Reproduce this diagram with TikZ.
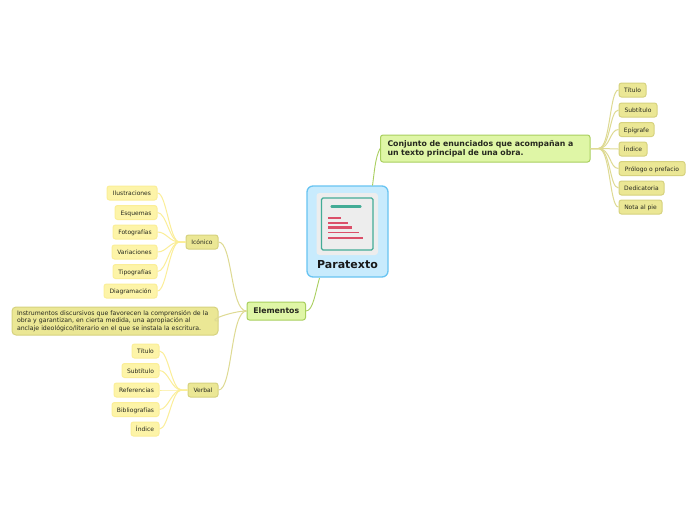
\documentclass[tikz,border=0pt]{standalone}
\usepackage{xcolor}
\usepackage{fontspec}
\setmainfont{DejaVu Sans}
\usepackage{tikz}

\definecolor{rootfill}{HTML}{C8EBFD}
\definecolor{rootline}{HTML}{68C4F2}
\definecolor{greenfill}{HTML}{DFF6A6}
\definecolor{greenline}{HTML}{A9CF5E}
\definecolor{olivefill}{HTML}{EBE795}
\definecolor{oliveline}{HTML}{D6D27E}
\definecolor{paleline}{HTML}{DEDA92}
\definecolor{yellowfill}{HTML}{FDF4A8}
\definecolor{yellowline}{HTML}{FBEE98}
\definecolor{inktext}{HTML}{26281F}
\definecolor{iconteal}{HTML}{43AC96}
\definecolor{iconred}{HTML}{D5304F}

\tikzset{
  topic/.style={rounded corners=2.5pt, line width=1pt, inner sep=0pt, align=center, text=inktext,
    font=\fontsize{6}{7}\selectfont},
  rootbox/.style={topic, draw=rootline, fill=rootfill, rounded corners=6pt, line width=1.3pt},
  mainbox/.style={topic, draw=greenline, fill=greenfill, font=\fontsize{7.8}{8.9}\selectfont\bfseries},
  olivebox/.style={topic, draw=oliveline, fill=olivefill},
  olivetag/.style={olivebox, text height=5.5pt, text depth=0.5pt, minimum height=14pt},
  leaftag/.style={topic, draw=yellowline, fill=yellowfill, text height=5.5pt, text depth=0.5pt, minimum height=14pt},
  greenlink/.style={draw=greenline, line width=0.9pt},
  olivelink/.style={draw=paleline, line width=1pt},
  leaflink/.style={draw=yellowline, line width=1pt},
  iconbar/.style={draw=iconred!85!white, line width=1.6pt}
}

\begin{document}
\begin{tikzpicture}[x=1pt,y=-1pt]
\useasboundingbox[fill=white] (0,0) rectangle (696,520);

% Main topics
\node[rootbox, minimum width=81pt, minimum height=91pt] (root) at (347.5,231.5) {};
\node[mainbox, minimum height=27pt, inner xsep=7pt, text width=195.5pt, align=left] (conjunto) at (485.25,148.5) {Conjunto de enunciados que acompañan a\\un texto principal de una obra.};
\node[mainbox, minimum width=58.5pt, minimum height=18pt] (elementos) at (276.25,311) {Elementos};

% Right side
\node[olivetag, minimum width=27pt] (rtitulo) at (632.5,90) {Título};
\node[olivetag, minimum width=38pt] (rsubtitulo) at (638,110) {Subtítulo};
\node[olivetag, minimum width=35pt] (repigrafe) at (636.5,129.5) {Epígrafe};
\node[olivetag, minimum width=28pt] (rindice) at (633,149) {Índice};
\node[olivetag, minimum width=66pt] (rprologo) at (652,168.5) {Prólogo o prefacio};
\node[olivetag, minimum width=45pt] (rdedicatoria) at (641.5,188) {Dedicatoria};
\node[olivetag, minimum width=43pt] (rnota) at (640.5,207) {Nota al pie};

% Left side
\node[olivetag, minimum width=32pt] (iconico) at (202,242) {Icónico};
\node[olivetag, minimum width=30pt] (verbal) at (203,390) {Verbal};
\node[olivebox, minimum height=28pt, inner xsep=5pt, text width=196pt, align=left, rounded corners=4pt,
  font=\fontsize{6.2}{7.5}\selectfont] (discurso) at (115,321) {Instrumentos discursivos que favorecen la comprensión de la\\obra y garantizan, en cierta medida, una apropiación al\\anclaje ideológico/literario en el que se instala la escritura.};

\node[leaftag, minimum width=50pt] (ilustra) at (132,193) {Ilustraciones};
\node[leaftag, minimum width=42pt] (esquemas) at (136,212.5) {Esquemas};
\node[leaftag, minimum width=44pt] (fotos) at (135,232) {Fotografías};
\node[leaftag, minimum width=45pt] (variacion) at (134.5,252) {Variaciones};
\node[leaftag, minimum width=44pt] (tipos) at (135,271.5) {Tipografías};
\node[leaftag, minimum width=53pt] (diagrama) at (130.5,291) {Diagramación};

\node[leaftag, minimum width=27pt] (vtitulo) at (145.5,351) {Título};
\node[leaftag, minimum width=37pt] (vsubtitulo) at (140.5,370.5) {Subtítulo};
\node[leaftag, minimum width=45pt] (vrefer) at (136.5,390) {Referencias};
\node[leaftag, minimum width=47pt] (vbiblio) at (135.5,409.5) {Bibliografías};
\node[leaftag, minimum width=28pt] (vindice) at (145,429) {Índice};

% Connectors
\coordinate (roottop) at (372.5,185.5);
\coordinate (rootbot) at (319.5,278);
\draw[greenlink] (roottop) .. controls +(2,-14) and +(-5,10) .. (conjunto.west);
\draw[greenlink] (rootbot) .. controls +(-4,14) and +(7,0) .. (elementos.east);

\foreach \leaf in {rtitulo,rsubtitulo,repigrafe,rindice,rprologo,rdedicatoria,rnota}
  \draw[olivelink] (conjunto.east) -- ++(8,0) .. controls +(12,0) and +(-9,0) .. (\leaf.west);

\draw[olivelink] (elementos.west) .. controls +(-16,0) and +(14,0) .. (iconico.east);
\draw[olivelink] (elementos.west) .. controls +(-14,0) and +(-14,0) .. (discurso.east);
\draw[olivelink] (elementos.west) .. controls +(-16,0) and +(14,0) .. (verbal.east);

\foreach \leaf in {ilustra,esquemas,fotos,variacion,tipos,diagrama}
  \draw[leaflink] (iconico.west) -- ++(-6,0) .. controls +(-10,0) and +(9,0) .. (\leaf.east);
\foreach \leaf in {vtitulo,vsubtitulo,vrefer,vbiblio,vindice}
  \draw[leaflink] (verbal.west) -- ++(-6,0) .. controls +(-10,0) and +(9,0) .. (\leaf.east);

% Icon and title of the root
\node[font=\fontsize{11}{12}\selectfont\bfseries, text=black!90, inner sep=0pt] (roottext) at (347.5,264.5) {Paratexto};
\fill[white!93!black, rounded corners=3pt] (316.5,193) rectangle (378,255);
\draw[iconteal, fill=white!93!black, line width=1.2pt, rounded corners=1.5pt] (321.5,198) rectangle (373,250);
\draw[iconteal, line width=2.4pt, line cap=round] (331.5,206.5) -- (360.5,206.5);
\draw[iconbar] (328,217.7) -- (341,217.7);
\draw[iconbar] (328,222.7) -- (348,222.7);
\draw[iconbar, line width=3pt] (328,227.7) -- (352,227.7);
\draw[iconbar] (328,232.6) -- (359,232.6);
\draw[iconbar] (328,237.8) -- (363,237.8);
\end{tikzpicture}
\end{document}
